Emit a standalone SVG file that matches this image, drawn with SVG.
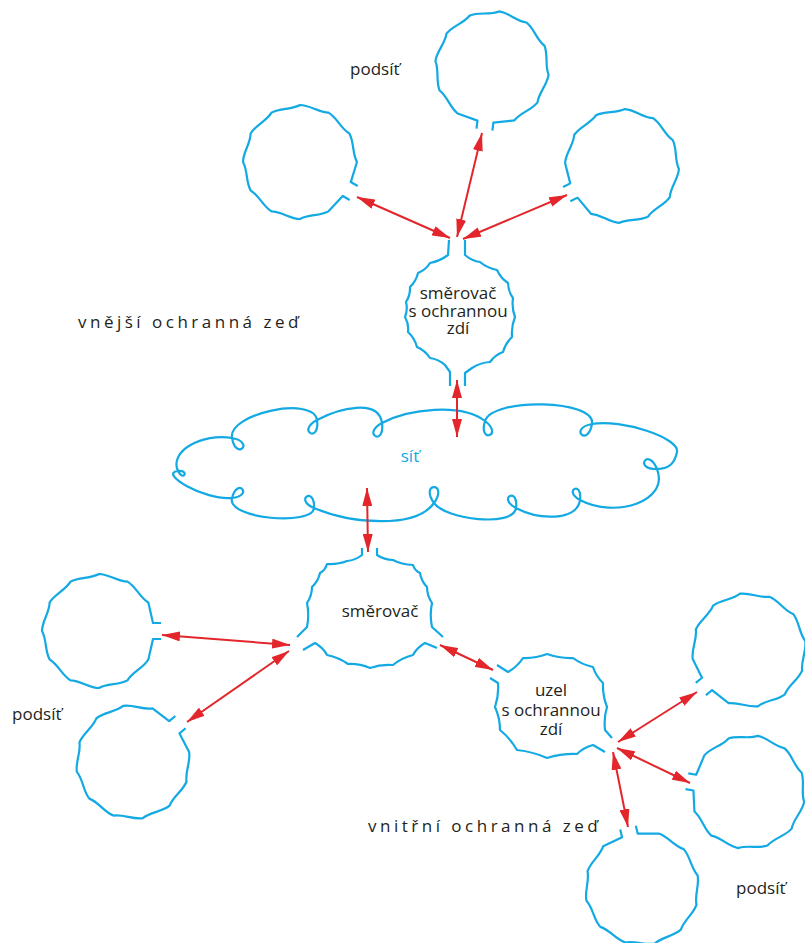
<svg xmlns="http://www.w3.org/2000/svg" xmlns:xlink="http://www.w3.org/1999/xlink" width="805" height="943" viewBox="0 0 805 943">
  <style>
    .outline { fill: none; stroke: #13a9e3; stroke-width: 2.2; stroke-linejoin: round; stroke-linecap: butt; }
    .link { fill: none; stroke: #e3262b; stroke-width: 2; marker-start: url(#ah); marker-end: url(#ah); }
    .lbl { font-family: "Open Sans", "Noto Sans", "DejaVu Sans", sans-serif; font-size: 17px; fill: #231f20; }
    .mid { text-anchor: middle; }
    .wall { letter-spacing: 3.5px; }
    .net { fill: #13a9e3; }
  </style>
  <defs>
    <marker id="ah" viewBox="0 0 18 10" refX="18" refY="5" markerWidth="9" markerHeight="5" orient="auto-start-reverse" markerUnits="strokeWidth">
      <path d="M0,0 L18,5 L0,10 Z" fill="#e3262b"/>
    </marker>
    <!-- subnet outline: wavy twelve-sided ring, opening with neck toward +x -->
    <path id="subnet" class="outline" d="M62,8 L54,8 L49.36,28.5 C44.18,37.22 33.68,40.64 28.5,49.36 C19.65,54.32 8.85,52.04 0,57 C-10.15,56.86 -18.35,49.5 -28.5,49.36 C-37.22,44.18 -40.64,33.68 -49.36,28.5 C-54.32,19.65 -52.04,8.85 -57,0 C-56.86,-10.15 -49.5,-18.35 -49.36,-28.5 C-44.18,-37.22 -33.68,-40.64 -28.5,-49.36 C-19.65,-54.32 -8.85,-52.04 0,-57 C10.15,-56.86 18.35,-49.5 28.5,-49.36 C37.22,-44.18 40.64,-33.68 49.36,-28.5 L54,-8 L62,-8"/>
  </defs>

  <!-- subnets -->
  <g id="subnet-top"><use xlink:href="#subnet" transform="translate(492,68) rotate(97)"/></g>
  <g id="subnet-top-left"><use xlink:href="#subnet" transform="translate(300,162) rotate(30)"/></g>
  <g id="subnet-top-right"><use xlink:href="#subnet" transform="translate(622,166) rotate(153)"/></g>
  <g id="subnet-left-upper"><use xlink:href="#subnet" transform="translate(99,631) rotate(0)"/></g>
  <g id="subnet-left-lower"><use xlink:href="#subnet" transform="translate(133,762) rotate(-40)"/></g>
  <g id="subnet-right-upper"><use xlink:href="#subnet" transform="translate(749,650) rotate(141)"/></g>
  <g id="subnet-right-middle"><use xlink:href="#subnet" transform="translate(748,792) rotate(190)"/></g>
  <g id="subnet-right-lower"><use xlink:href="#subnet" transform="translate(642,888) rotate(-103)"/></g>

  <!-- router with firewall -->
  <g id="firewall-router">
    <path class="outline" d="M449,240 L448,255 Q440,261 430,263 Q425.6,270 418,273 Q416,281.4 410,287 Q410.4,295.3 406,302 Q408,309.5 405,317 Q409,324 408,332 Q414.7,338.2 417,347 Q425.2,350.6 430,358 Q438.5,359.2 445,365 L450,372 L450,386"/>
    <path class="outline" d="M465,240 L465,255 Q472,261 480,262 Q487.2,268 497,270 Q500.6,278.1 508,283 Q508.2,291.5 513,298 Q511.5,307.5 515,317 Q511.1,326.3 512,337 Q505.4,343.1 503,352 Q494.9,355 490,362 Q480,362.7 472,368 L465,373 L465,386"/>
    <text class="lbl mid" x="458" y="299">směrovač<tspan x="458" dy="17.5">s ochrannou</tspan><tspan x="458" dy="17.5">zdí</tspan></text>
  </g>

  <!-- network cloud: scalloped outline, each join curls into a small loop -->
  <g id="network">
    <path class="outline" d="M232,438
      C255.4,442.1 236.1,461.4 232,438
      C227.7,413.6 313.45,395.3 317,420
      C320.4,443.7 295.9,431.3 317,420
      C339,408.2 378.45,398.3 382,423
      C385.4,446.7 360.9,434.3 382,423
      C408.4,408.9 461.15,402.8 485,421
      C504.1,435.6 477.8,443.9 485,421
      C492.5,397.2 596.3,399.4 592,424
      C587.8,447.6 568.4,428.2 592,424
      C621.6,418.8 680,438 677,452
      C675,461.5 670.9,468.6 657,469
      C633.1,469.6 648.3,446.8 657,469
      C669.7,501.4 615.2,518.8 580,500
      C562.4,490.6 582.8,480.3 580,500
      C576.9,521.7 538,519.8 516,508
      C496.6,497.6 519.1,486.3 516,508
      C513.2,527.7 445.5,519.4 434,503
      C419.1,481.7 448.9,481.7 434,503
      C415.6,529.2 350.9,523.7 314,508
      C293.7,499.4 315.2,486 314,508
      C313,526 226.5,519.3 232,498
      C237.5,476.7 253.9,495.9 232,498
      C204.1,500.7 158,472.8 178,471
      C190,469.9 183.1,481.9 178,471
      C168.6,451 202.75,432.8 232,438"/>
    <text class="lbl net mid" x="410" y="462">síť</text>
  </g>

  <!-- router -->
  <g id="router">
    <path class="outline" d="M362,548 L362,555 Q355.3,560.4 347,561 Q338.5,564.5 327,564 Q325.4,570.1 320,573 Q318.2,581.2 312,587 Q312,595.5 307,603 Q309.5,614.7 307,627 L297,637"/>
    <path class="outline" d="M303,650 L315,643 Q323,647.4 327,655 Q338.8,657.4 348,664 Q359.5,663.5 370,668 Q381,664 393,665 Q401.6,657.9 413,655 Q417,647.4 425,643 L437,648"/>
    <path class="outline" d="M443,637 L432,627 Q429.5,614.8 432,603 Q427,595.5 427,587 Q421.3,581.2 420,573 Q414.6,570.6 413,565 Q401.5,564.5 393,560 Q384.3,559.9 377,555 L377,548"/>
    <text class="lbl mid" x="380" y="617">směrovač</text>
  </g>

  <!-- host with firewall -->
  <g id="firewall-host">
    <path class="outline" d="M497,665 L508,672 Q517.2,666.9 523,658 Q535.8,658.4 547,654 Q559.6,658.5 573,658 Q581.5,664.5 593,667 Q596,676.4 603,683 Q602.5,695.5 607,707 Q603.6,718 605,730 L612,738"/>
    <path class="outline" d="M490,678 L498,683 Q499,695.5 495,707 Q500,718 500,730 Q510.5,738.5 517,750 Q533,751.7 547,758 Q561.5,753.5 577,754 Q583.5,747.5 593,745 L605,752"/>
    <text class="lbl mid" x="551" y="696">uzel<tspan x="551" dy="19.5">s ochrannou</tspan><tspan x="551" dy="19.5">zdí</tspan></text>
  </g>

  <!-- connections -->
  <g id="links">
    <line class="link" x1="357" y1="197" x2="450" y2="238"/>
    <line class="link" x1="482" y1="133" x2="457" y2="237"/>
    <line class="link" x1="567" y1="195" x2="463" y2="239"/>
    <line class="link" x1="457" y1="380" x2="457" y2="437"/>
    <line class="link" x1="367" y1="488" x2="368" y2="552"/>
    <line class="link" x1="162" y1="635" x2="290" y2="645"/>
    <line class="link" x1="289" y1="651" x2="187" y2="722"/>
    <line class="link" x1="440" y1="645" x2="493" y2="670"/>
    <line class="link" x1="618" y1="742" x2="697" y2="692"/>
    <line class="link" x1="617" y1="748" x2="690" y2="783"/>
    <line class="link" x1="613" y1="752" x2="628" y2="827"/>
  </g>

  <!-- labels -->
  <g id="labels">
    <text class="lbl" x="350" y="75">podsíť</text>
    <text class="lbl wall" x="78" y="328">vnější ochranná zeď</text>
    <text class="lbl" x="12" y="720">podsíť</text>
    <text class="lbl wall" x="368" y="832">vnitřní ochranná zeď</text>
    <text class="lbl" x="736" y="894">podsíť</text>
  </g>
</svg>
